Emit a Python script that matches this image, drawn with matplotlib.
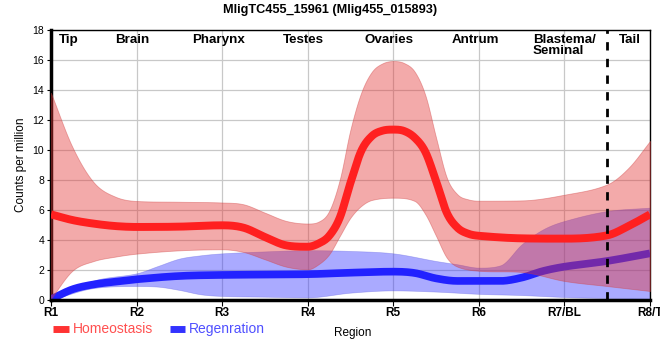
import numpy as np
import matplotlib
matplotlib.use("Agg")
import matplotlib.pyplot as plt
from matplotlib.lines import Line2D

plt.rcParams["font.family"] = ["Liberation Sans", "DejaVu Sans"]

# ------------------------------------------------------------
# data (x = region position, 1 = R1 ... 8 = R8/T)
# ------------------------------------------------------------
regions = ["R1", "R2", "R3", "R4", "R5", "R6", "R7/BL", "R8/T"]
tissues = ["Tip", "Brain", "Pharynx", "Testes", "Ovaries", "Antrum", "Blastema/\nSeminal", "Tail"]

homeo_mid_x = [1, 1.25, 1.5, 1.75, 2, 2.5, 3, 3.25, 3.5, 3.75, 4, 4.125, 4.25, 4.375, 4.5, 4.625, 4.75,
               4.875, 5, 5.125, 5.25, 5.375, 5.5, 5.625, 5.75, 5.875, 6, 6.5, 7, 7.5, 7.75, 8]
homeo_mid = [5.71, 5.33, 5.09, 4.93, 4.87, 4.89, 4.98, 4.82, 4.2, 3.64, 3.55, 3.76, 4.27, 5.49, 7.82, 9.93, 10.93,
             11.29, 11.36, 11.27, 10.82, 9.87, 7.93, 5.82, 4.82, 4.42, 4.28, 4.11, 4.09, 4.31, 4.93, 5.71]

homeo_hi_x = [1, 1.25, 1.5, 1.75, 2, 2.5, 3, 3.25, 3.5, 3.75, 4, 4.125, 4.25, 4.375, 4.5, 4.625, 4.75,
              4.875, 5, 5.125, 5.25, 5.375, 5.5, 5.625, 5.75, 5.875, 6, 6.5, 7, 7.5, 7.75, 8]
homeo_hi = [13.8, 10.2, 7.84, 6.89, 6.6, 6.55, 6.5, 6.38, 5.82, 5.27, 5.1, 5.22, 5.93, 8.04, 11.38, 13.82, 15.22,
            15.78, 15.93, 15.8, 15.22, 13.64, 10.82, 8.16, 7.04, 6.71, 6.62, 6.64, 7.02, 7.71, 8.82, 10.6]

homeo_lo_x = [1, 1.25, 1.5, 1.75, 2, 2.5, 3, 3.25, 3.5, 3.75, 4, 4.125, 4.25, 4.375, 4.5, 4.625, 4.75,
              5, 5.25, 5.375, 5.5, 5.625, 5.75, 6, 6.5, 7, 7.5, 8]
homeo_lo = [0.1, 1.95, 2.6, 2.89, 3.09, 3.31, 3.38, 3.2, 2.71, 2.22, 2.05, 2.38, 3.04, 4.27, 5.49, 6.27, 6.67,
            6.82, 6.6, 5.71, 4.27, 2.82, 2.22, 1.95, 1.87, 1.27, 0.93, 0.6]

regen_mid_x = [1, 1.25, 1.5, 1.75, 2, 2.5, 3, 4, 4.5, 5, 5.25, 5.5, 5.75, 6, 6.25, 6.5, 6.75, 7, 7.5, 8]
regen_mid = [0.05, 0.71, 1.04, 1.22, 1.38, 1.6, 1.67, 1.72, 1.82, 1.89, 1.8, 1.44, 1.27, 1.27, 1.27, 1.49, 1.93, 2.22, 2.6, 3.11]

regen_hi_x = [1, 1.5, 2, 2.25, 2.5, 2.75, 3, 3.5, 4, 4.5, 5, 5.5, 5.75, 6, 6.25, 6.5, 6.75, 7, 7.5, 8]
regen_hi = [0.05, 1.3, 1.78, 2.27, 2.76, 2.98, 3.11, 3.24, 3.32, 3.27, 3.11, 2.6, 2.38, 2.16, 2.31, 3.71, 4.71, 5.27, 5.93, 6.16]

regen_lo_x = [1, 1.5, 2, 2.25, 2.5, 2.75, 3, 3.5, 4, 4.5, 5, 5.5, 6, 6.5, 7, 7.5, 8]
regen_lo = [0.0, 0.8, 0.93, 0.89, 0.67, 0.38, 0.27, 0.22, 0.18, 0.49, 0.64, 0.56, 0.41, 0.33, 0.2, 0.13, 0.08]


def smooth_curve(x, y, n=30):
    """cubic Hermite curve through the points: centred tangents,
    flat at local extrema and clamped so it does not overshoot"""
    x = np.asarray(x, float)
    y = np.asarray(y, float)
    h = np.diff(x)
    s = np.diff(y) / h
    t = np.zeros_like(y)
    t[0], t[-1] = s[0], s[-1]
    for i in range(1, len(y) - 1):
        if s[i - 1] * s[i] <= 0:
            continue
        c = (y[i + 1] - y[i - 1]) / (x[i + 1] - x[i - 1])
        lim = 3 * min(abs(s[i - 1]), abs(s[i]))
        t[i] = np.sign(c) * min(abs(c), lim)
    xs, ys = [], []
    for i in range(len(h)):
        u = np.linspace(0, 1, n, endpoint=(i == len(h) - 1))
        h00 = 2 * u**3 - 3 * u**2 + 1
        h10 = u**3 - 2 * u**2 + u
        h01 = -2 * u**3 + 3 * u**2
        h11 = u**3 - u**2
        xs.append(x[i] + u * h[i])
        ys.append(h00 * y[i] + h10 * h[i] * t[i] + h01 * y[i + 1] + h11 * h[i] * t[i + 1])
    return np.concatenate(xs), np.concatenate(ys)


def band(ax, xl, yl, xh, yh, **kw):
    # both edges on one common x grid so fill_between can use them
    xa, la = smooth_curve(xl, yl)
    xb, ha = smooth_curve(xh, yh)
    grid = np.linspace(1, 8, 1000)
    ax.fill_between(grid, np.interp(grid, xa, la), np.interp(grid, xb, ha), **kw)


x = np.arange(1, len(regions) + 1)

fig = plt.figure(figsize=(6.6, 3.6), dpi=100)
ax = fig.add_axes([51 / 660, 60 / 360, 599 / 660, 270 / 360])

# blue below, red above
band(ax, regen_lo_x, regen_lo, regen_hi_x, regen_hi,
     color="#3535ff", alpha=0.42, edgecolor="#6060e0", linewidth=0.5, zorder=2)
ax.plot(*smooth_curve(regen_mid_x, regen_mid), color="#2222ff", lw=5.5, solid_capstyle="butt", zorder=3)

band(ax, homeo_lo_x, homeo_lo, homeo_hi_x, homeo_hi,
     color="#e33535", alpha=0.42, edgecolor="#d04040", linewidth=0.6, zorder=4)
ax.plot(*smooth_curve(homeo_mid_x, homeo_mid), color="#ff2020", lw=5.7, solid_capstyle="butt", zorder=5)

ax.axvline(7.5, color="black", lw=2, ls=(0, (3, 3)), zorder=6)

ax.set_xlim(1, 8)
ax.set_ylim(0, 18)
ax.set_xticks(x)
ax.set_xticklabels(regions, fontsize=8.5, fontweight="bold")
ax.set_yticks(np.arange(0, 19, 2))
ax.tick_params(axis="y", labelsize=7.5, length=3, pad=2)
ax.tick_params(axis="x", length=4, pad=1)
ax.grid(color="#c8c8c8", lw=0.9, zorder=0)
ax.set_axisbelow(True)

for side in ["left", "bottom"]:
    ax.spines[side].set_linewidth(2.5)
for side in ["top", "right"]:
    ax.spines[side].set_linewidth(1)
ax.spines["bottom"].set_zorder(7)

ax.set_ylabel("Counts per million", fontsize=8.5, labelpad=4)
ax.set_xlabel("Region", fontsize=8.5)
ax.xaxis.set_label_coords(0.503, -0.1)

# tissue names at the top of the plot
for i, name in enumerate(tissues):
    kw = dict(va="top", fontsize=9.6, fontweight="bold", linespacing=0.95)
    if name == "Tip":
        ax.text(1.09, 17.75, name, ha="left", **kw)
    elif name.startswith("Blastema"):
        ax.text(6.63, 17.75, name, ha="left", **kw)
    elif name == "Tail":
        ax.text(7.76, 17.75, name, ha="center", **kw)
    else:
        ax.text(x[i] - 0.045, 17.75, name, ha="center", **kw)

fig.suptitle("MligTC455_15961 (Mlig455_015893)", fontsize=9.2, fontweight="bold", y=0.988)

handles = [Line2D([], [], color="#ff3333", lw=5, solid_capstyle="butt"),
           Line2D([], [], color="#3333ff", lw=5, solid_capstyle="butt")]
fig.legend(handles, ["Homeostasis", "Regenration"], loc="center left",
           bbox_to_anchor=(0.062, 0.085), ncol=2, frameon=False, fontsize=10,
           handlelength=1.1, handletextpad=0.3, columnspacing=1.2,
           labelcolor=["#ff5050", "#5050ff"])

fig.savefig("out.png", dpi=100)
